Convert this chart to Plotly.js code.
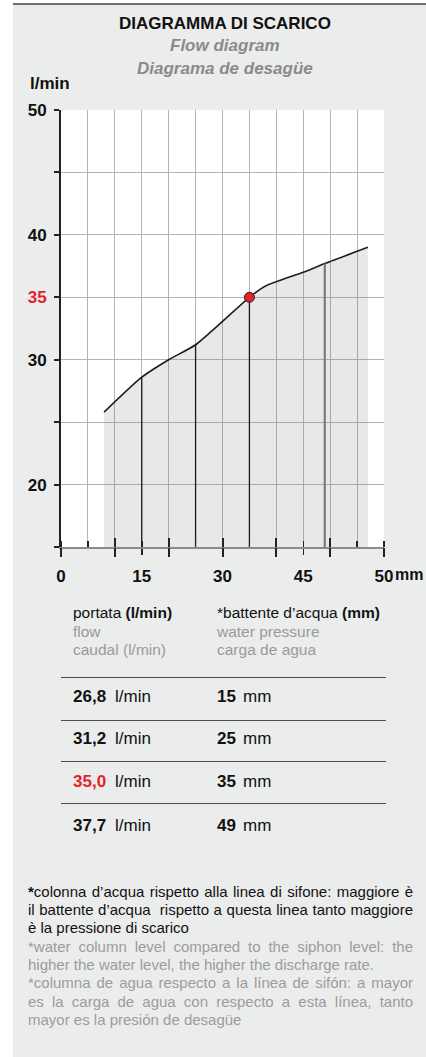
<!DOCTYPE html>
<html>
<head>
<meta charset="utf-8">
<script src="https://cdn.plot.ly/plotly-3.0.1.min.js"></script>
<style>
  html, body { margin:0; padding:0; background:#ffffff; width:426px; height:1057px; overflow:hidden; }
  #panel { position:absolute; left:13px; top:3px; width:413px; height:1052px; background:#ebecec; border-top:2px solid #6f6f6f; }
  #chart { position:absolute; left:0; top:0; width:426px; height:600px; }
  .t { position:absolute; font-family:"Liberation Sans", Arial, sans-serif; white-space:nowrap; }
  .hr { position:absolute; left:61px; width:325px; height:1px; background:#4d4d4d; }
  .fn { position:absolute; left:28px; width:385px; font-family:"Liberation Sans", Arial, sans-serif; font-size:15px; line-height:18px; height:18px; text-align:justify; text-align-last:justify; }
  .fn.last { text-align:left; text-align-last:left; }
</style>
</head>
<body>
<div id="panel"></div>
<div id="chart"></div>
<div id="table"></div>
<div id="foot"></div>
<script>
// ---- data ----
const curveX = [8, 15, 20, 25, 35, 38, 45, 49, 57];          // mm
const curveY = [25.8, 28.6, 30.0, 31.2, 35.0, 35.9, 37.0, 37.7, 39.0]; // l/min
const dropX = [15, 25, 35];
const dropY = [28.6, 31.2, 35.0];
const dropGreyX = [49];
const dropGreyY = [37.7];
const markX = [35];
const markY = [35.0];
const xLabelVals = [0, 15, 30, 45, 60];
const xLabelText = ['0', '15', '30', '45', '50'];
const xMajorVals = [0, 10, 20, 30, 40, 50, 60];
const xMinorVals = [0, 5, 10, 15, 20, 25, 30, 35, 40, 45, 50, 55, 60];
const yTickVals = [15, 20, 25, 30, 35, 40, 45, 50];
const yTickText = ['', '20', '', '30', '<span style="color:#e3232b">35</span>', '40', '', '50'];
const tableFlow = ['26,8', '31,2', '35,0', '37,7'];
const tablePress = ['15', '25', '35', '49'];
const highlightRow = 2;

// ---- chart ----
function vLines(xs, ys) {
  const X = [], Y = [];
  xs.forEach((x, i) => { X.push(x, x, null); Y.push(15, ys[i], null); });
  return {X, Y};
}
const d1 = vLines(dropX, dropY);
const d2 = vLines(dropGreyX, dropGreyY);
const FONT = 'Liberation Sans, Arial, sans-serif';

const traces = [
  { x: curveX, y: curveY, type: 'scatter', mode: 'lines', fill: 'tozeroy',
    fillcolor: 'rgba(110,110,110,0.16)', line: {color: '#1e1e1e', width: 1.6, shape: 'spline', smoothing: 0.6},
    xaxis: 'x', yaxis: 'y', hoverinfo: 'skip' },
  { x: d1.X, y: d1.Y, type: 'scatter', mode: 'lines', line: {color: '#1a1a1a', width: 1.3},
    xaxis: 'x2', yaxis: 'y', hoverinfo: 'skip' },
  { x: d2.X, y: d2.Y, type: 'scatter', mode: 'lines', line: {color: '#7a7a7a', width: 2.2},
    xaxis: 'x2', yaxis: 'y', hoverinfo: 'skip' },
  { x: markX, y: markY, type: 'scatter', mode: 'markers',
    marker: {color: '#e3232b', size: 10, line: {color: '#222', width: 1}},
    xaxis: 'x3', yaxis: 'y', hoverinfo: 'skip' }
];

const tickFont = {family: FONT, size: 17, color: '#111', weight: 'bold'};
const layout = {
  width: 426, height: 600,
  margin: {l: 61, r: 42, t: 110, b: 53},
  paper_bgcolor: 'rgba(0,0,0,0)', plot_bgcolor: '#ffffff',
  showlegend: false,
  xaxis: {
    range: [0, 60], fixedrange: true,
    tickvals: xLabelVals, ticktext: xLabelText, tickfont: tickFont,
    ticks: 'outside', ticklen: 6, tickwidth: 1.5, tickcolor: '#222',
    ticklabelstandoff: 7,
    showgrid: true, gridcolor: '#b4b4b4', gridwidth: 1,
    minor: {tickvals: xMinorVals, ticks: 'inside', ticklen: 6, tickwidth: 1.5, tickcolor: '#222',
            showgrid: true, gridcolor: '#b4b4b4', gridwidth: 1},
    showline: true, linecolor: '#8a8a8a', linewidth: 2, zeroline: false
  },
  xaxis2: {
    overlaying: 'x', anchor: 'y', side: 'bottom', range: [0, 60], fixedrange: true,
    tickvals: xMajorVals, ticks: 'outside', ticklen: 9, tickwidth: 2, tickcolor: '#222',
    showticklabels: false, showgrid: false, showline: false, zeroline: false
  },
  xaxis3: {
    overlaying: 'x', anchor: 'y', side: 'bottom', range: [0, 60], fixedrange: true,
    tickvals: xMajorVals, ticks: 'inside', ticklen: 9, tickwidth: 2, tickcolor: '#222',
    showticklabels: false, showgrid: false, showline: false, zeroline: false
  },
  yaxis: {
    range: [15, 50], fixedrange: true,
    tickvals: yTickVals, ticktext: yTickText, tickfont: tickFont,
    ticks: 'outside', ticklen: 5, tickwidth: 2, tickcolor: '#222',
    ticklabelstandoff: 4,
    showgrid: true, gridcolor: '#b4b4b4', gridwidth: 1,
    showline: true, linecolor: '#222', linewidth: 2, zeroline: false
  },
  annotations: [
    {text: 'DIAGRAMMA DI SCARICO', xref: 'paper', yref: 'paper', x: 0.508, y: 1.1968, xanchor: 'center', yanchor: 'middle',
     showarrow: false, font: {family: FONT, size: 17, color: '#111', weight: 'bold'}},
    {text: '<i>Flow diagram</i>', xref: 'paper', yref: 'paper', x: 0.508, y: 1.1465, xanchor: 'center', yanchor: 'middle',
     showarrow: false, font: {family: FONT, size: 17, color: '#8a8a8a', weight: 'bold'}},
    {text: '<i>Diagrama de desagüe</i>', xref: 'paper', yref: 'paper', x: 0.508, y: 1.0961, xanchor: 'center', yanchor: 'middle',
     showarrow: false, font: {family: FONT, size: 17, color: '#8a8a8a', weight: 'bold'}},
    {text: 'l/min', xref: 'paper', yref: 'paper', x: -0.102, y: 1.0595, xanchor: 'left', yanchor: 'middle',
     showarrow: false, font: {family: FONT, size: 17, color: '#111', weight: 'bold'}},
    {text: 'mm', xref: 'paper', yref: 'paper', x: 1.03, y: -0.064, xanchor: 'left', yanchor: 'middle',
     showarrow: false, borderpad: 0, font: {family: FONT, size: 16, color: '#111', weight: 'bold'}}
  ]
};
Plotly.newPlot('chart', traces, layout, {displayModeBar: false, staticPlot: true});

// ---- table ----
const tbl = document.getElementById('table');
function addText(parent, html, left, centerY, size, color, weight, lh) {
  const d = document.createElement('div');
  d.className = 't';
  d.style.left = left + 'px';
  d.style.top = (centerY - lh / 2) + 'px';
  d.style.lineHeight = lh + 'px';
  d.style.fontSize = size + 'px';
  d.style.color = color;
  d.style.fontWeight = weight;
  d.innerHTML = html;
  parent.appendChild(d);
}
addText(tbl, 'portata <b>(l/min)</b>', 73, 613, 15.5, '#111', 'normal', 18);
addText(tbl, 'flow', 73, 631.5, 15.5, '#9a9a9a', 'normal', 18);
addText(tbl, 'caudal (l/min)', 73, 650, 15.5, '#9a9a9a', 'normal', 18);
addText(tbl, '*battente d’acqua <b>(mm)</b>', 217, 613, 15.5, '#111', 'normal', 18);
addText(tbl, 'water pressure', 217, 631.5, 15.5, '#9a9a9a', 'normal', 18);
addText(tbl, 'carga de agua', 217, 650, 15.5, '#9a9a9a', 'normal', 18);
const hrTops = [677, 720, 761, 803];
hrTops.forEach(t => { const h = document.createElement('div'); h.className = 'hr'; h.style.top = t + 'px'; tbl.appendChild(h); });
const rowCenters = [696.7, 739.3, 782.3, 826];
tableFlow.forEach((v, i) => {
  const c = rowCenters[i];
  addText(tbl, v, 73, c, 17, i === highlightRow ? '#e3232b' : '#111', 'bold', 20);
  addText(tbl, 'l/min', 115, c, 17, '#111', 'normal', 20);
  addText(tbl, tablePress[i], 217, c, 17, '#111', 'bold', 20);
  addText(tbl, 'mm', 243, c, 17, '#111', 'normal', 20);
});

// ---- footnote ----
const footLines = [
  ['<b>*</b>colonna d’acqua rispetto alla linea di sifone: maggiore è', '#111', false],
  ['il battente d’acqua&nbsp; rispetto a questa linea tanto maggiore', '#111', false],
  ['è la pressione di scarico', '#111', true],
  ['*water column level compared to the siphon level: the', '#9c9c9c', false],
  ['higher the water level, the higher the discharge rate.', '#9c9c9c', true],
  ['*columna de agua respecto a la línea de sifón: a mayor', '#9c9c9c', false],
  ['es la carga de agua con respecto a esta línea, tanto', '#9c9c9c', false],
  ['mayor es la presión de desagüe', '#9c9c9c', true]
];
const foot = document.getElementById('foot');
footLines.forEach((l, i) => {
  const d = document.createElement('div');
  d.className = 'fn' + (l[2] ? ' last' : '');
  d.style.top = (891.7 + i * 18.33 - 9) + 'px';
  d.style.color = l[1];
  d.innerHTML = l[0];
  foot.appendChild(d);
});
</script>
</body>
</html>
